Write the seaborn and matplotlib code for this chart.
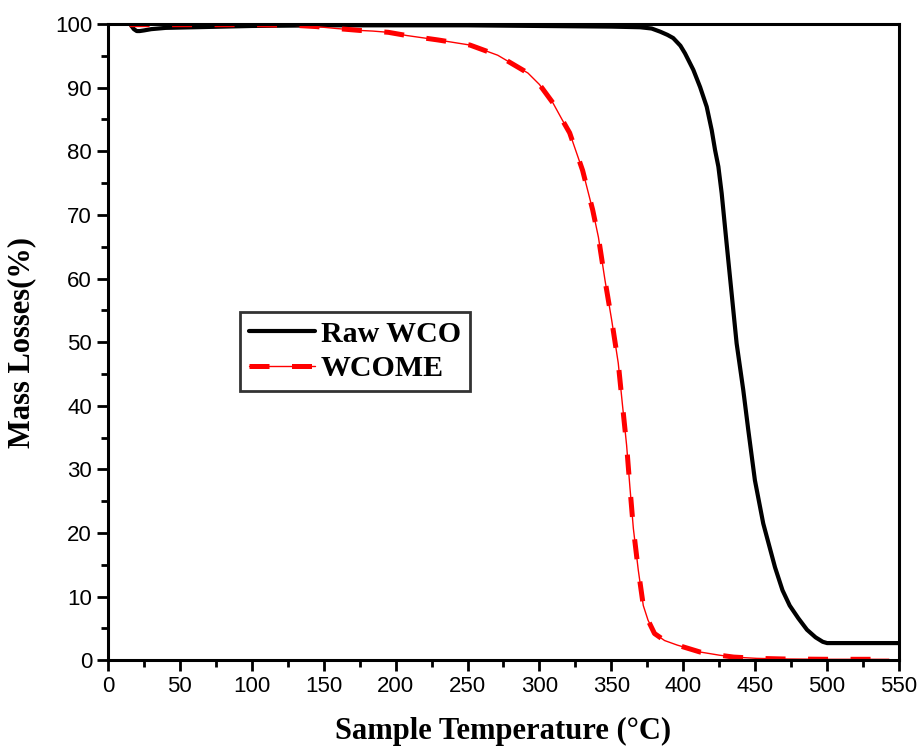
import matplotlib
matplotlib.use("Agg")
import matplotlib.pyplot as plt
from matplotlib.ticker import MultipleLocator
import seaborn as sns
import pandas as pd

# Thermogravimetric curves: temperature (°C) vs remaining mass (%)
raw_wco_temp = [16, 18, 20, 22, 25, 30, 40, 60, 100, 150, 200, 250, 300, 350, 370,
                378, 384, 389, 393, 398, 401.2, 407, 411.7, 416.3, 419.8, 422.1,
                424.4, 426.7, 430.1, 433.6, 437.1, 441.7, 445.2, 449.8, 455.6, 463.8,
                469, 474, 480, 486, 492, 497, 500, 503, 550]
raw_wco_mass = [99.8, 99.2, 98.9, 98.9, 99.0, 99.2, 99.4, 99.5, 99.7, 99.8, 99.8,
                99.8, 99.7, 99.6, 99.5, 99.3, 98.8, 98.3, 97.8, 96.6, 95.4, 92.8,
                90.1, 87.0, 83.3, 80.2, 77.6, 73.4, 65.6, 57.7, 49.8, 42.5, 36.2,
                28.3, 21.5, 14.6, 11.0, 8.6, 6.6, 4.8, 3.6, 2.9, 2.7, 2.7, 2.7]

wcome_temp = [15, 30, 60, 100, 130, 145, 159, 175, 184, 195, 207.7, 229.5, 251.7,
              271, 292, 300, 309.4, 315.7, 321, 330, 337, 341, 345.6, 350.2, 354.8,
              357.6, 360.6, 362.9, 365.3, 368.7, 372.2, 375.5, 380, 387, 395.6,
              411.6, 425, 435, 451, 470, 500, 543]
wcome_mass = [99.9, 99.9, 99.9, 99.9, 99.8, 99.6, 99.3, 99.0, 98.9, 98.7, 98.2,
              97.5, 96.7, 95.1, 92.3, 90.5, 87.6, 85.0, 82.9, 77.0, 70.8, 66.5,
              59.7, 53.5, 46.7, 40.4, 33.8, 27.2, 20.7, 14.2, 8.6, 6.3, 4.2, 3.1,
              2.4, 1.3, 0.8, 0.5, 0.3, 0.2, 0.15, 0.15]

x_ticks = list(range(0, 551, 50))
y_ticks = list(range(0, 101, 10))

raw_df = pd.DataFrame({"temp": raw_wco_temp, "mass": raw_wco_mass})
me_df = pd.DataFrame({"temp": wcome_temp, "mass": wcome_mass})

sns.set_style("ticks")
plt.rcParams["font.family"] = ["Liberation Sans", "DejaVu Sans"]
plt.rcParams["text.color"] = "black"
plt.rcParams["axes.labelcolor"] = "black"
plt.rcParams["xtick.color"] = "black"
plt.rcParams["ytick.color"] = "black"

fig = plt.figure(figsize=(9.23, 7.52), dpi=100)
ax = fig.add_axes([0.117, 0.122, 0.857, 0.846])

sns.lineplot(data=raw_df, x="temp", y="mass", ax=ax, color="black", lw=3.0,
             estimator=None, sort=False)
sns.lineplot(data=me_df, x="temp", y="mass", ax=ax, color="red", lw=1.0,
             estimator=None, sort=False)
sns.lineplot(data=me_df, x="temp", y="mass", ax=ax, color="red", lw=3.6,
             estimator=None, sort=False)
lines = ax.get_lines()
raw_line, thin_line, dash_line = lines[0], lines[1], lines[2]
dash_line.set_dashes((4, 4.5))
dash_line.set_dash_capstyle("butt")

ax.set_xlim(0, 550)
ax.set_ylim(0, 100)
ax.set_xticks(x_ticks)
ax.set_yticks(y_ticks)
ax.xaxis.set_minor_locator(MultipleLocator(25))
ax.yaxis.set_minor_locator(MultipleLocator(5))
ax.tick_params(which="major", direction="out", length=8, width=2,
               labelsize=16, colors="black", labelcolor="black")
ax.tick_params(which="minor", direction="out", length=5, width=2)

for s in ax.spines.values():
    s.set_linewidth(2.2)
    s.set_color("black")
    s.set_visible(True)

label_font = dict(family=["Liberation Serif", "DejaVu Serif"], weight="bold",
                  size=22, color="black")
ax.set_xlabel("Sample Temperature (°C)", labelpad=14, **label_font)
ax.set_ylabel("Mass Losses(%)", labelpad=13, **label_font)

leg = ax.legend([raw_line, (thin_line, dash_line)], ["Raw WCO", "WCOME"],
                loc="upper left", bbox_to_anchor=(0.167, 0.548),
                prop=dict(family=["Liberation Serif", "DejaVu Serif"],
                          weight="bold", size=21.5),
                frameon=True, fancybox=False, edgecolor="black",
                handlelength=2.2, handletextpad=0.2, borderpad=0.3,
                labelspacing=0.25, borderaxespad=0)
leg.get_frame().set_linewidth(2.0)
for t in leg.get_texts():
    t.set_color("black")

fig.savefig("out.png", dpi=100, facecolor="white")
